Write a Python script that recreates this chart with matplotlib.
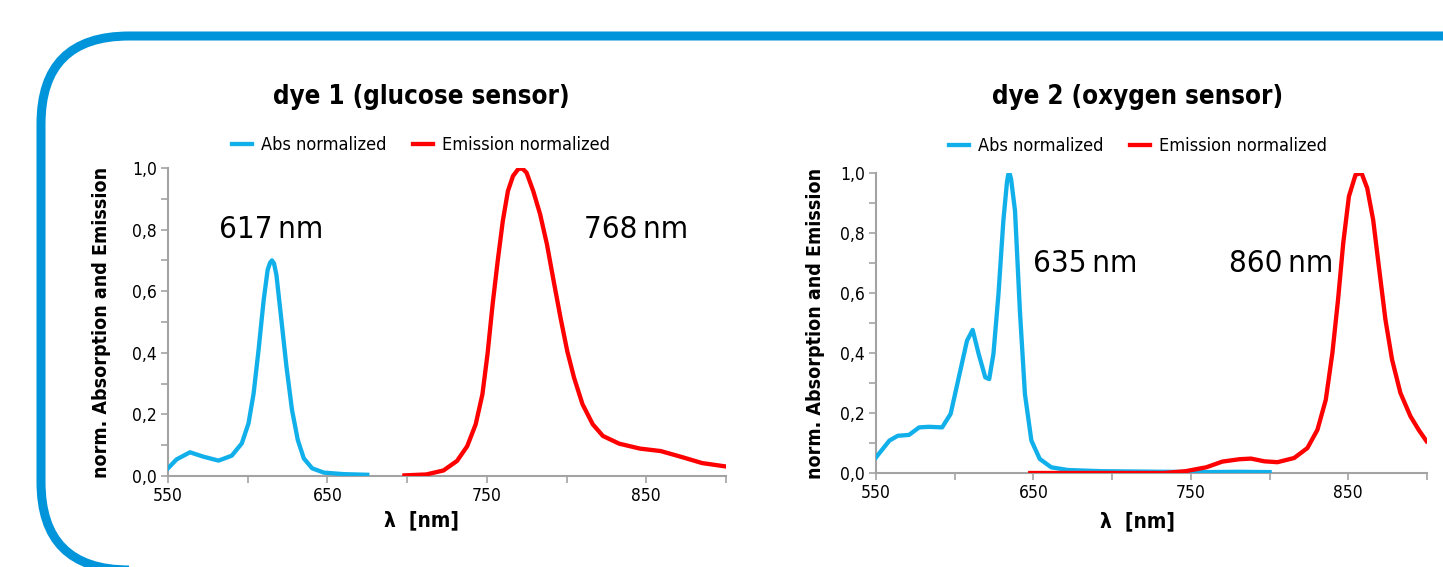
import matplotlib
matplotlib.use('Agg')
import matplotlib.pyplot as plt
from matplotlib import font_manager
from matplotlib.patches import FancyBboxPatch
from matplotlib.ticker import FixedLocator, FuncFormatter

# look for a condensed sans face, otherwise plain Liberation Sans with smaller text
names = {f.name for f in font_manager.fontManager.ttflist}
cond = {f.name for f in font_manager.fontManager.ttflist if str(f.stretch) in ('condensed', 'semi-condensed')}
if 'Liberation Sans Narrow' in names:
    plt.rcParams['font.family'] = ['Liberation Sans Narrow', 'DejaVu Sans']
    k = 1.08
elif 'DejaVu Sans' in cond:
    plt.rcParams['font.family'] = ['DejaVu Sans']
    plt.rcParams['font.stretch'] = 'condensed'
    k = 1.0
else:
    plt.rcParams['font.family'] = ['Liberation Sans', 'DejaVu Sans']
    k = 0.95

# dye 1 (glucose sensor)
abs1_wl = [550, 555.4, 563.8, 572, 581.7, 590, 596.3, 600.5, 603.7, 606.8, 610, 612.5, 614,
           615.2, 616.5, 618, 620.9, 624.3, 627.8, 631.4, 635.2, 640.4, 647.7, 660.3, 675]
abs1_val = [0.025, 0.054, 0.077, 0.063, 0.050, 0.066, 0.106, 0.171, 0.268, 0.409, 0.571, 0.669, 0.692,
            0.70, 0.69, 0.653, 0.517, 0.355, 0.214, 0.117, 0.057, 0.025, 0.011, 0.006, 0.004]
em1_wl = [698.3, 712, 722.8, 731.3, 737.7, 743, 747.2, 750.4, 753.6, 756.8, 760, 763.2, 766.4,
          769.6, 772.1, 774.9, 779.1, 783.4, 787.7, 791.9, 796.2, 800.4, 804.7, 810, 816.4,
          822.8, 833, 846, 859, 872, 885, 899.8]
em1_val = [0.002, 0.005, 0.018, 0.049, 0.097, 0.168, 0.265, 0.395, 0.557, 0.698, 0.828, 0.925, 0.974,
           0.996, 0.999, 0.985, 0.925, 0.85, 0.752, 0.633, 0.514, 0.406, 0.319, 0.233, 0.168,
           0.13, 0.105, 0.089, 0.081, 0.062, 0.042, 0.031]

# dye 2 (oxygen sensor)
abs2_wl = [550, 558.5, 563.8, 571, 577.4, 583.6, 592, 597.4, 602.6, 607.8, 611.4, 615.2,
           619.4, 621.9, 624.6, 627.8, 630.9, 633.2, 634, 634.8, 635.8, 638.3, 641.4, 644.6, 648.7,
           654, 661.3, 671.8, 693, 733, 760, 780, 800]
abs2_val = [0.052, 0.108, 0.124, 0.127, 0.152, 0.154, 0.152, 0.197, 0.319, 0.441, 0.477, 0.397,
            0.319, 0.313, 0.397, 0.597, 0.841, 0.97, 0.995, 1.0, 0.98, 0.874, 0.541, 0.263, 0.108,
            0.047, 0.019, 0.010, 0.006, 0.004, 0.003, 0.004, 0.003]
em2_wl = [648, 733, 746.6, 759.8, 770, 781, 788.2, 796.6, 805, 815.6, 824, 830.4, 835.7, 839.9,
          843.5, 846.8, 850.4, 854.6, 858.4, 862, 865.8, 869.4, 873.6, 877.8, 883.1, 889.5,
          894.7, 899.7]
em2_val = [0.0, 0.0, 0.006, 0.019, 0.038, 0.046, 0.048, 0.039, 0.036, 0.05, 0.083, 0.144, 0.244, 0.4,
           0.578, 0.767, 0.922, 0.994, 1.0, 0.95, 0.844, 0.689, 0.511, 0.378, 0.267, 0.189,
           0.144, 0.106]

titles = ['dye 1 (glucose sensor)', 'dye 2 (oxygen sensor)']
peak_labels = [('617\u2009nm', '768\u2009nm'), ('635\u2009nm', '860\u2009nm')]

BLUE = '#12b0ea'
RED = '#ff0000'
GRAY = '#a3a3a3'
FRAME = '#0095da'

fig = plt.figure(figsize=(14.43, 5.67), dpi=100)

# rounded blue frame, runs off the right and bottom edges
frame = FancyBboxPatch((0.41, -0.03), 15.0, 5.34,
                       boxstyle='round,pad=0,rounding_size=0.88',
                       transform=fig.dpi_scale_trans, fill=False,
                       ec=FRAME, lw=6.5, clip_on=False)
fig.add_artist(frame)

ax1 = fig.add_axes([168 / 1443, 1 - 476 / 567, 558 / 1443, 308 / 567])
ax2 = fig.add_axes([876 / 1443, 1 - 473 / 567, 551 / 1443, 300 / 567])

data = [(abs1_wl, abs1_val, em1_wl, em1_val), (abs2_wl, abs2_val, em2_wl, em2_val)]
centers = [421, 1138]
ylab_x = [111, 825]
ann_pos = [((582, 0.80), (811, 0.80)), ((650, 0.70), (774, 0.70))]

for i, ax in enumerate([ax1, ax2]):
    aw, av, ew, ev = data[i]
    ax.plot(aw, av, color=BLUE, lw=3.1, solid_joinstyle='round', label='Abs normalized', zorder=3)
    ax.plot(ew, ev, color=RED, lw=3.1, solid_joinstyle='round', label='Emission normalized', zorder=3)
    ax.set_xlim(550, 900)
    ax.set_ylim(0, 1.0)
    for s in ['top', 'right']:
        ax.spines[s].set_visible(False)
    for s in ['left', 'bottom']:
        ax.spines[s].set_color(GRAY)
        ax.spines[s].set_linewidth(1.5)
    ax.xaxis.set_major_locator(FixedLocator([550, 650, 750, 850]))
    ax.xaxis.set_minor_locator(FixedLocator([600, 700, 800, 900]))
    ax.yaxis.set_major_locator(FixedLocator([0, 0.2, 0.4, 0.6, 0.8, 1.0]))
    ax.yaxis.set_minor_locator(FixedLocator([0.1, 0.3, 0.5, 0.7, 0.9]))
    ax.yaxis.set_major_formatter(FuncFormatter(lambda v, p: f'{v:.1f}'.replace('.', ',')))
    ax.tick_params(which='both', direction='out', length=5, width=1.2, color=GRAY,
                   labelsize=12.5 * k, pad=3)
    pos = ax.get_position()
    cx = (centers[i] - pos.x0 * 1443) / (pos.width * 1443)
    ax.set_ylabel('norm. Absorption and Emission', fontsize=14 * k, fontweight='bold')
    ax.yaxis.set_label_coords((ylab_x[i] - pos.x0 * 1443) / (pos.width * 1443), 0.5)
    ax.set_xlabel('λ  [nm]', fontsize=15 * k, fontweight='bold')
    ax.xaxis.set_label_coords(cx, -0.113 if i == 0 else -0.127)
    fig.text(centers[i] / 1443, 1 - 97 / 567, titles[i], ha='center', va='center',
             fontsize=18.5 * k, fontweight='bold')
    leg = ax.legend(loc='center', bbox_to_anchor=(cx, 1.075 if i == 0 else 1.09), ncol=2,
                    frameon=False, fontsize=13 * k, handlelength=1.1, handletextpad=0.5,
                    columnspacing=1.5)
    for (x, y), txt in zip(ann_pos[i], peak_labels[i]):
        ax.text(x, y, txt, fontsize=22.5 * k, ha='left', va='center')

fig.savefig('out.png', dpi=100)
